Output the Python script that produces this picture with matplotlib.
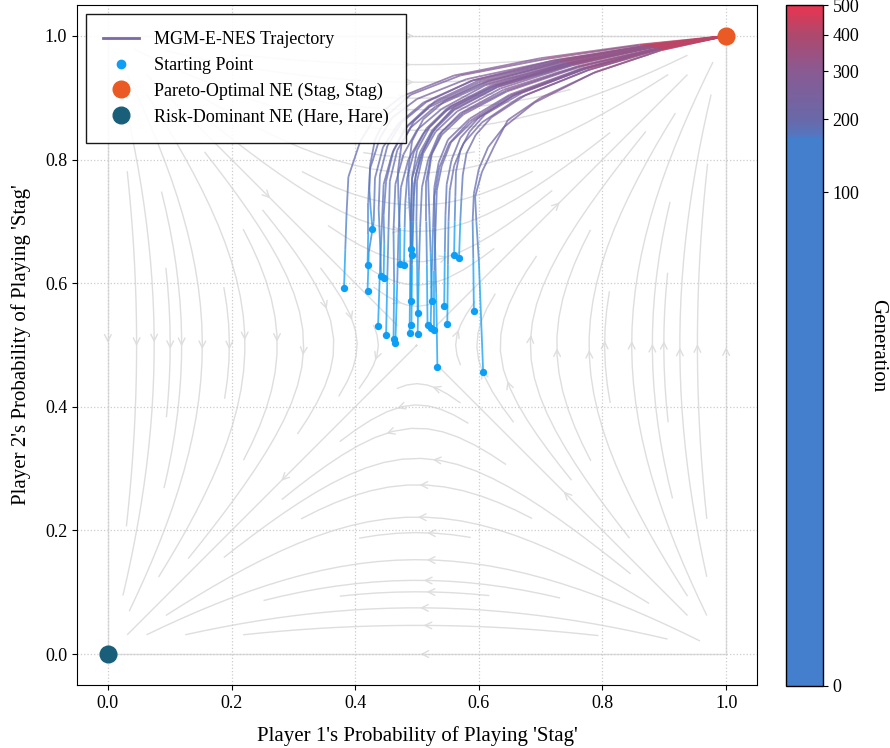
import numpy as np
import matplotlib
matplotlib.use("Agg")
import matplotlib.pyplot as plt
from matplotlib.colors import LinearSegmentedColormap, PowerNorm
from matplotlib.collections import LineCollection
from matplotlib.lines import Line2D

plt.rcParams['font.family'] = ['Liberation Serif', 'DejaVu Serif']
plt.rcParams['mathtext.fontset'] = 'stix'

# stag hunt payoffs for the row player: [stag vs stag, stag vs hare, hare vs stag, hare vs hare]
payoff = [2.0, 0.0, 1.0, 1.0]

# generation attached to each waypoint of a trajectory (last one is the (1,1) NE)
gens = [0, 150, 170, 185, 200, 215, 235, 260, 295, 350, 500]

# trajectory waypoints (x = player 1, y = player 2)
traj_x = [
    [0.382, 0.384, 0.386, 0.389, 0.408, 0.432, 0.475, 0.56, 0.70, 0.86],
    [0.428, 0.425, 0.423, 0.424, 0.432, 0.452, 0.49, 0.57, 0.71, 0.86],
    [0.420, 0.421, 0.421, 0.424, 0.44, 0.46, 0.50, 0.58, 0.72, 0.87],
    [0.420, 0.422, 0.430, 0.432, 0.445, 0.47, 0.51, 0.59, 0.72, 0.87],
    [0.442, 0.440, 0.438, 0.440, 0.452, 0.475, 0.515, 0.59, 0.73, 0.87],
    [0.446, 0.447, 0.446, 0.45, 0.462, 0.485, 0.52, 0.60, 0.73, 0.87],
    [0.437, 0.440, 0.443, 0.446, 0.46, 0.48, 0.52, 0.60, 0.73, 0.87],
    [0.450, 0.452, 0.454, 0.456, 0.468, 0.49, 0.53, 0.61, 0.74, 0.88],
    [0.462, 0.463, 0.462, 0.465, 0.478, 0.50, 0.54, 0.61, 0.74, 0.88],
    [0.465, 0.468, 0.470, 0.474, 0.486, 0.51, 0.545, 0.62, 0.74, 0.88],
    [0.472, 0.472, 0.47, 0.469, 0.475, 0.495, 0.53, 0.60, 0.73, 0.87],
    [0.479, 0.480, 0.481, 0.484, 0.495, 0.515, 0.55, 0.62, 0.74, 0.88],
    [0.490, 0.489, 0.487, 0.486, 0.492, 0.51, 0.545, 0.615, 0.74, 0.88],
    [0.492, 0.494, 0.495, 0.498, 0.51, 0.53, 0.56, 0.63, 0.75, 0.88],
    [0.490, 0.49, 0.49, 0.492, 0.505, 0.525, 0.56, 0.63, 0.75, 0.88],
    [0.501, 0.50, 0.499, 0.50, 0.51, 0.53, 0.565, 0.635, 0.75, 0.88],
    [0.491, 0.492, 0.493, 0.495, 0.505, 0.525, 0.56, 0.63, 0.75, 0.88],
    [0.488, 0.489, 0.49, 0.492, 0.50, 0.52, 0.555, 0.625, 0.75, 0.88],
    [0.501, 0.503, 0.505, 0.508, 0.518, 0.535, 0.57, 0.64, 0.76, 0.89],
    [0.524, 0.522, 0.52, 0.518, 0.524, 0.54, 0.575, 0.645, 0.76, 0.89],
    [0.517, 0.516, 0.515, 0.515, 0.522, 0.54, 0.575, 0.645, 0.76, 0.89],
    [0.522, 0.524, 0.526, 0.528, 0.535, 0.55, 0.585, 0.65, 0.765, 0.89],
    [0.528, 0.528, 0.53, 0.532, 0.54, 0.555, 0.59, 0.655, 0.77, 0.89],
    [0.533, 0.531, 0.529, 0.528, 0.536, 0.552, 0.585, 0.65, 0.765, 0.89],
    [0.544, 0.545, 0.546, 0.548, 0.556, 0.57, 0.60, 0.66, 0.77, 0.89],
    [0.549, 0.55, 0.551, 0.553, 0.56, 0.575, 0.605, 0.665, 0.775, 0.89],
    [0.560, 0.561, 0.562, 0.563, 0.57, 0.585, 0.61, 0.67, 0.775, 0.89],
    [0.568, 0.57, 0.572, 0.574, 0.58, 0.595, 0.62, 0.675, 0.78, 0.895],
    [0.592, 0.591, 0.59, 0.592, 0.60, 0.615, 0.64, 0.69, 0.785, 0.895],
    [0.607, 0.600, 0.596, 0.594, 0.605, 0.625, 0.647, 0.70, 0.79, 0.895],
]
traj_y = [
    [0.593, 0.655, 0.712, 0.772, 0.829, 0.868, 0.902, 0.936, 0.964, 0.986],
    [0.688, 0.72, 0.75, 0.79, 0.832, 0.872, 0.905, 0.936, 0.963, 0.985],
    [0.629, 0.68, 0.73, 0.785, 0.835, 0.868, 0.898, 0.93, 0.96, 0.984],
    [0.588, 0.65, 0.70, 0.77, 0.82, 0.858, 0.892, 0.928, 0.96, 0.984],
    [0.611, 0.67, 0.72, 0.775, 0.822, 0.86, 0.893, 0.928, 0.96, 0.984],
    [0.608, 0.665, 0.71, 0.765, 0.815, 0.855, 0.888, 0.925, 0.958, 0.983],
    [0.531, 0.62, 0.69, 0.76, 0.81, 0.85, 0.885, 0.922, 0.957, 0.983],
    [0.516, 0.61, 0.69, 0.765, 0.815, 0.852, 0.886, 0.922, 0.956, 0.983],
    [0.509, 0.60, 0.685, 0.76, 0.808, 0.848, 0.882, 0.92, 0.955, 0.982],
    [0.503, 0.60, 0.68, 0.755, 0.80, 0.842, 0.878, 0.917, 0.954, 0.982],
    [0.631, 0.69, 0.735, 0.78, 0.825, 0.862, 0.895, 0.928, 0.959, 0.984],
    [0.629, 0.69, 0.73, 0.77, 0.812, 0.85, 0.884, 0.92, 0.955, 0.982],
    [0.655, 0.70, 0.74, 0.785, 0.83, 0.865, 0.895, 0.927, 0.958, 0.983],
    [0.645, 0.70, 0.74, 0.775, 0.815, 0.852, 0.885, 0.92, 0.955, 0.982],
    [0.571, 0.65, 0.71, 0.77, 0.812, 0.848, 0.882, 0.918, 0.954, 0.982],
    [0.551, 0.64, 0.70, 0.765, 0.81, 0.845, 0.878, 0.915, 0.952, 0.981],
    [0.532, 0.63, 0.70, 0.76, 0.805, 0.845, 0.88, 0.917, 0.953, 0.982],
    [0.519, 0.62, 0.70, 0.77, 0.815, 0.852, 0.886, 0.92, 0.955, 0.982],
    [0.518, 0.62, 0.69, 0.755, 0.80, 0.84, 0.875, 0.913, 0.951, 0.981],
    [0.571, 0.65, 0.71, 0.77, 0.81, 0.845, 0.876, 0.912, 0.95, 0.98],
    [0.532, 0.63, 0.70, 0.765, 0.805, 0.84, 0.873, 0.91, 0.949, 0.98],
    [0.527, 0.62, 0.69, 0.755, 0.795, 0.832, 0.866, 0.905, 0.947, 0.979],
    [0.525, 0.62, 0.69, 0.75, 0.79, 0.828, 0.862, 0.903, 0.946, 0.979],
    [0.464, 0.584, 0.67, 0.74, 0.787, 0.826, 0.862, 0.903, 0.946, 0.979],
    [0.563, 0.65, 0.71, 0.76, 0.80, 0.835, 0.868, 0.906, 0.947, 0.979],
    [0.534, 0.63, 0.70, 0.75, 0.79, 0.826, 0.86, 0.90, 0.944, 0.978],
    [0.646, 0.70, 0.74, 0.78, 0.815, 0.845, 0.873, 0.908, 0.948, 0.979],
    [0.641, 0.70, 0.74, 0.775, 0.81, 0.84, 0.868, 0.904, 0.946, 0.979],
    [0.555, 0.64, 0.70, 0.745, 0.785, 0.82, 0.852, 0.892, 0.94, 0.977],
    [0.456, 0.637, 0.70, 0.74, 0.78, 0.822, 0.864, 0.90, 0.942, 0.977],
]

ne_stag = (1.0, 1.0)
ne_hare = (0.0, 0.0)

start_color = '#0d9ef5'
cmap = LinearSegmentedColormap.from_list('gen', [
    (0.0, '#437fcc'), (0.805, '#437fcc'), (0.81, '#5575bf'),
    (0.834, '#6a68a8'), (0.905, '#8a5a92'), (0.96, '#b0486c'), (1.0, '#e8344f')])
norm = PowerNorm(gamma=0.2, vmin=0, vmax=500)

fig = plt.figure(figsize=(8.9, 7.48), dpi=100)
ax = fig.add_axes([0.0865, 0.0842, 0.7641, 0.9091])
cax = fig.add_axes([0.883, 0.0829, 0.0416, 0.9104])

# replicator dynamics vector field
g = np.linspace(0, 1, 60)
X, Y = np.meshgrid(g, g)
U = X * (1 - X) * ((payoff[0] * Y + payoff[1] * (1 - Y)) - (payoff[2] * Y + payoff[3] * (1 - Y)))
V = Y * (1 - Y) * ((payoff[0] * X + payoff[1] * (1 - X)) - (payoff[2] * X + payoff[3] * (1 - X)))
ax.streamplot(X, Y, U, V, color='#dedede', linewidth=1.0, density=1.1,
              arrowsize=1.2, arrowstyle='->', zorder=1)

for tx, ty in zip(traj_x, traj_y):
    px = list(tx) + [ne_stag[0]]
    py = list(ty) + [ne_stag[1]]
    pts = np.column_stack([px, py])
    segs = np.stack([pts[:-1], pts[1:]], axis=1)
    mids = [(gens[i] + gens[i + 1]) / 2 for i in range(len(gens) - 1)]
    cols = [cmap(norm(m)) for m in mids]
    cols[0] = start_color
    lc = LineCollection(segs, colors=cols, linewidths=1.3, alpha=0.75, zorder=3)
    ax.add_collection(lc)

ax.scatter([t[0] for t in traj_x], [t[0] for t in traj_y], s=28, color=start_color,
           zorder=5, linewidths=0)
ax.scatter([ne_stag[0]], [ne_stag[1]], s=170, color='#ea5a24', zorder=6, linewidths=0)
ax.scatter([ne_hare[0]], [ne_hare[1]], s=170, color='#1a5f7a', zorder=6, linewidths=0)

ax.set_xlim(-0.05, 1.05)
ax.set_ylim(-0.05, 1.05)
ax.set_xticks([0, 0.2, 0.4, 0.6, 0.8, 1.0])
ax.set_yticks([0, 0.2, 0.4, 0.6, 0.8, 1.0])
ax.grid(True, linestyle=':', color='#cccccc', linewidth=0.9, zorder=0)
ax.tick_params(labelsize=13)
ax.set_xlabel("Player 1's Probability of Playing 'Stag'", fontsize=15, labelpad=10)
ax.set_ylabel("Player 2's Probability of Playing 'Stag'", fontsize=15, labelpad=10)

handles = [
    Line2D([], [], color='#7a68a8', lw=2),
    Line2D([], [], marker='o', ls='none', color=start_color, ms=6),
    Line2D([], [], marker='o', ls='none', color='#ea5a24', ms=12),
    Line2D([], [], marker='o', ls='none', color='#1a5f7a', ms=12),
]
labels = ['MGM-E-NES Trajectory', 'Starting Point',
          'Pareto-Optimal NE (Stag, Stag)', 'Risk-Dominant NE (Hare, Hare)']
leg = ax.legend(handles, labels, loc='upper left', fontsize=13, fancybox=False,
                edgecolor='black', framealpha=0.9, borderpad=0.95, labelspacing=0.48)
leg.get_frame().set_linewidth(1.0)
leg.set_zorder(10)

sm = plt.cm.ScalarMappable(cmap=cmap, norm=norm)
cb = fig.colorbar(sm, cax=cax, ticks=[0, 100, 200, 300, 400, 500])
cb.ax.tick_params(labelsize=13)
cb.set_label('Generation', fontsize=15, rotation=270, labelpad=20)
cb.outline.set_linewidth(1.0)

fig.savefig('out.png', dpi=100)
